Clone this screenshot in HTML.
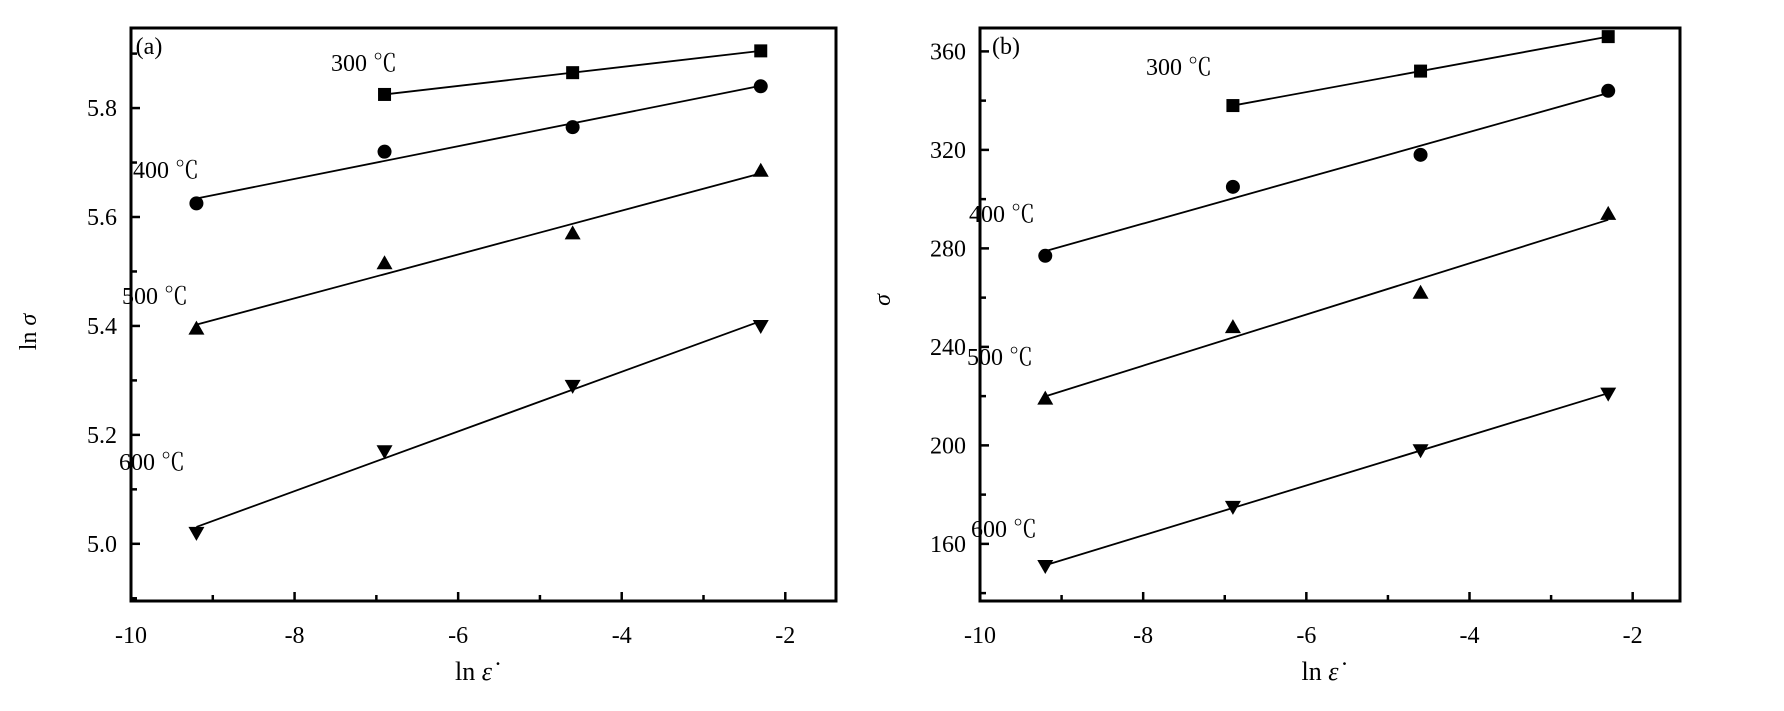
<!DOCTYPE html>
<html><head><meta charset="utf-8"><style>
body{margin:0;background:#fff;}
svg text{font-family:"Liberation Serif","Noto Serif CJK SC",serif;fill:#000;}
</style></head><body>
<svg id="chart" width="1784" height="706" viewBox="0 0 1784 706" xmlns="http://www.w3.org/2000/svg"></svg>
<script>
const xCats = [-9.2, -6.9, -4.6, -2.3];
const seriesNames = ["300 ℃", "400 ℃", "500 ℃", "600 ℃"];
const aS300 = [null, 5.825, 5.865, 5.905];
const aS400 = [5.625, 5.72, 5.765, 5.84];
const aS500 = [5.395, 5.515, 5.57, 5.685];
const aS600 = [5.02, 5.17, 5.29, 5.40];
const bS300 = [null, 338, 352, 366];
const bS400 = [277, 305, 318, 344];
const bS500 = [219, 248, 262, 294];
const bS600 = [151, 175, 198, 221];
const xTicks = [-10, -8, -6, -4, -2];
const aYTicks = [5.0, 5.2, 5.4, 5.6, 5.8];
const bYTicks = [160, 200, 240, 280, 320, 360];

const NS = "http://www.w3.org/2000/svg";
const svg = document.getElementById("chart");
function mk(tag, attrs, parent){const e=document.createElementNS(NS,tag);for(const k in attrs)e.setAttribute(k,attrs[k]);(parent||svg).appendChild(e);return e;}

const panels = [
 {id:"a", L:131, R:836, T:28, B:601, xmin:-10, xmax:-1.38, ymin:4.895, ymax:5.947, yTicks:aYTicks, yMinor:0.1, fmt:v=>v.toFixed(1),
  series:[aS300,aS400,aS500,aS600], ylabel:"ln σ", ylx:36, yly:332, tag:"(a)", tagx:149, tagy:54,
  lab:[[364,71],[166,178],[155,304],[152,470]]},
 {id:"b", L:980, R:1680, T:28, B:601, xmin:-10, xmax:-1.42, ymin:136.8, ymax:369.5, yTicks:bYTicks, yMinor:20, fmt:v=>String(v),
  series:[bS300,bS400,bS500,bS600], ylabel:"σ", ylx:890, yly:300, tag:"(b)", tagx:1006, tagy:54,
  lab:[[1179,75],[1002,222],[1000,365],[1004,537]]}
];
const markers=["square","circle","up","down"];

panels.forEach(p=>{
  const g=mk("g",{});
  
  
  const X=v=>p.L+(v-p.xmin)/(p.xmax-p.xmin)*(p.R-p.L);
  const Y=v=>p.B-(v-p.ymin)/(p.ymax-p.ymin)*(p.B-p.T);
  const frame=mk("rect",{x:p.L,y:p.T,width:p.R-p.L,height:p.B-p.T,fill:"none",stroke:"#000","stroke-width":3},g);
  
  
  // x ticks
  for(let v=-10; v<=p.xmax; v+=1){
    const major=xTicks.includes(v);
    mk("line",{x1:X(v),x2:X(v),y1:p.B,y2:p.B-(major?9:6),stroke:"#000","stroke-width":2.5},g);
  }
  xTicks.forEach(v=>{
    const t=mk("text",{x:X(v),y:p.B+42,"font-size":24,"text-anchor":"middle"},g);
    t.textContent=String(v);
    
    
  });
  // y ticks
  const y0=p.yTicks[0]-p.yMinor*Math.floor((p.yTicks[0]-p.ymin)/p.yMinor);
  for(let v=y0; v<=p.ymax+1e-9; v+=p.yMinor){
    const major=p.yTicks.some(t=>Math.abs(t-v)<1e-6);
    mk("line",{x1:p.L,x2:p.L+(major?9:6),y1:Y(v),y2:Y(v),stroke:"#000","stroke-width":2.5},g);
  }
  p.yTicks.forEach(v=>{
    const t=mk("text",{x:p.L-14,y:Y(v)+8,"font-size":24,"text-anchor":"end"},g);
    t.textContent=p.fmt(v);
    
    
  });
  const yl=mk("text",{x:p.ylx,y:p.yly,"font-size":24,"text-anchor":"middle",transform:`rotate(-90 ${p.ylx} ${p.yly})`},g);
  yl.innerHTML=p.ylabel.replace("σ","<tspan font-style='italic'>σ</tspan>");
  
  
  const xl=mk("text",{x:(p.L+p.R)/2-10,y:680,"font-size":26,"text-anchor":"middle"},g);
  xl.innerHTML="ln <tspan font-style='italic'>ε̇</tspan>";
  
  
  const tg=mk("text",{x:p.tagx,y:p.tagy,"font-size":24,"text-anchor":"middle"},g);
  tg.textContent=p.tag;
  
  

  p.series.forEach((s,si)=>{
    const xs=[],ys=[];
    s.forEach((v,i)=>{if(v!==null){xs.push(xCats[i]);ys.push(v);}});
    const n=xs.length, mx=xs.reduce((a,b)=>a+b)/n, my=ys.reduce((a,b)=>a+b)/n;
    let sxy=0,sxx=0; xs.forEach((x,i)=>{sxy+=(x-mx)*(ys[i]-my);sxx+=(x-mx)*(x-mx);});
    const k=sxy/sxx, b=my-k*mx;
    const x1=xs[0], x2=xs[n-1];
    const ln=mk("line",{x1:X(x1),y1:Y(k*x1+b),x2:X(x2),y2:Y(k*x2+b),stroke:"#000","stroke-width":1.8},g);
    
    
    xs.forEach((x,i)=>{
      const cx=X(x), cy=Y(ys[i]); let m;
      const type=markers[si];
      if(type==="square") m=mk("rect",{x:cx-6.5,y:cy-6.5,width:13,height:13,fill:"#000"},g);
      else if(type==="circle") m=mk("circle",{cx:cx,cy:cy,r:7,fill:"#000"},g);
      else if(type==="up") m=mk("polygon",{points:`${cx},${cy-8} ${cx-8},${cy+6} ${cx+8},${cy+6}`,fill:"#000"},g);
      else m=mk("polygon",{points:`${cx},${cy+8} ${cx-8},${cy-6} ${cx+8},${cy-6}`,fill:"#000"},g);
      
      
    });
    const lt=mk("text",{x:p.lab[si][0],y:p.lab[si][1],"font-size":24,"text-anchor":"middle"},g);
    lt.textContent=seriesNames[si];
    
    
  });
});
</script>
</body></html>
